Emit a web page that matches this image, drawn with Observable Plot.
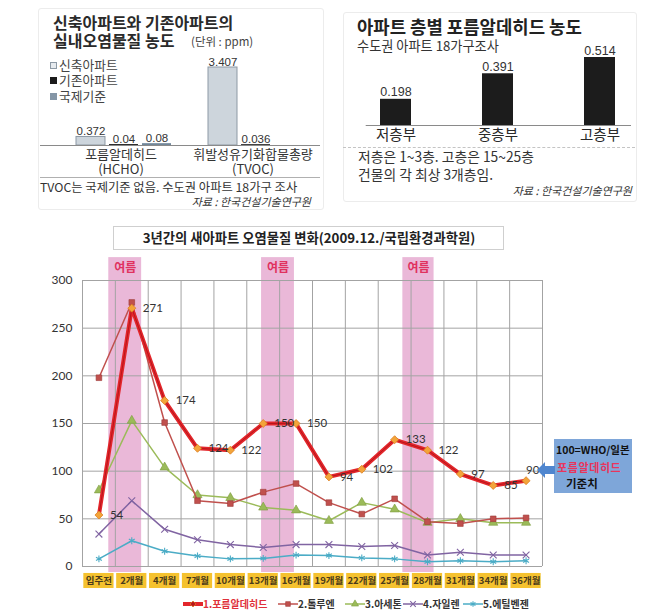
<!DOCTYPE html>
<html><head><meta charset="utf-8">
<script src="https://cdn.jsdelivr.net/npm/d3@7"></script>
<script src="https://cdn.jsdelivr.net/npm/@observablehq/plot@0.6"></script>
<style>
html,body{margin:0;padding:0;background:#fff;}
body{width:659px;height:615px;position:relative;overflow:hidden;font-family:"Noto Sans CJK KR",sans-serif;color:#333;}
.abs{position:absolute;white-space:nowrap;line-height:1;}
svg{position:absolute;}
</style></head><body>
<script>
// ---------- DATA ----------
const panelAGroups = ["HCHO", "TVOC"];
const panelAGroupLabels = ["포름알데히드\n(HCHO)", "휘발성유기화합물총량\n(TVOC)"];
const panelASeries = ["신축아파트", "기존아파트", "국제기준"];
const panelAHCHO = [0.372, 0.04, 0.08];
const panelATVOC = [3.407, 0.036, null];

const panelBFloors = ["저층부", "중층부", "고층부"];
const panelBValues = [0.198, 0.391, 0.514];

const months = ["입주전","2개월","4개월","7개월","10개월","13개월","16개월","19개월","22개월","25개월","28개월","31개월","34개월","36개월"];
const formaldehyde = [54, 271, 174, 124, 122, 150, 150, 94, 102, 133, 122, 97, 85, 90];
const toluene      = [198, 277, 151, 69, 66, 78, 87, 67, 55, 71, 47, 45, 50, 51];
const acetone      = [80, 153, 104, 75, 72, 62, 59, 48, 67, 60, 46, 50, 46, 46];
const xylene       = [34, 69, 39, 28, 23, 20, 23, 23, 21, 22, 12, 15, 12, 12];
const ethylbenzene = [8, 27, 16, 11, 8, 8.5, 12, 11.5, 9, 8, 5, 6, 5, 6];
const seriesNames = ["1.포름알데히드", "2.톨루엔", "3.아세톤", "4.자일렌", "5.에틸벤젠"];
const summerStart = [0.3, 4.95, 9.25];
const summerEnd   = [1.3, 5.95, 10.2];
const yTicks = [0, 50, 100, 150, 200, 250, 300];

// ---------- helpers ----------
const KR = "'Noto Sans CJK KR', sans-serif";
function txt(str, o) {
  const d = document.createElement("div");
  d.className = "abs";
  d.textContent = str;
  const s = o.size;
  d.style.fontSize = s + "px";
  d.style.top = (o.y - s * 0.55) + "px";
  if (o.anchor === "end") d.style.right = (659 - o.x) + "px";
  else if (o.anchor === "middle") { d.style.left = o.x + "px"; d.style.transform = "translateX(-50%)"; }
  else d.style.left = o.x + "px";
  if (o.weight) d.style.fontWeight = o.weight;
  if (o.color) d.style.color = o.color;
  if (o.italic) d.style.fontStyle = "italic";
  if (o.spacing) d.style.letterSpacing = o.spacing + "px";
  document.body.appendChild(d);
  return d;
}
function box(o) {
  const d = document.createElement("div");
  d.className = "abs";
  Object.assign(d.style, {left: o.x + "px", top: o.y + "px", width: o.w + "px", height: o.h + "px"}, o.css || {});
  document.body.appendChild(d);
  return d;
}
function place(svg, left, top) {
  svg.style.left = left + "px"; svg.style.top = top + "px";
  document.body.appendChild(svg);
}

// ---------- PANEL A (top-left) ----------
box({x: 38, y: 8, w: 284, h: 200, css: {border: "1px solid #ececec", borderRadius: "3px"}});
const aRows = [];
panelAGroups.forEach((g, gi) => {
  const vals = gi === 0 ? panelAHCHO : panelATVOC;
  panelASeries.forEach((s, si) => { if (vals[si] != null) aRows.push({g, s, v: vals[si]}); });
});
const chartA = Plot.plot({
  width: 330, height: 215,
  marginLeft: 75, marginRight: 26, marginTop: 67, marginBottom: 70,
  fx: {domain: panelAGroups, paddingInner: 0.278, paddingOuter: 0, axis: null},
  x: {domain: panelASeries, paddingInner: 0.125, paddingOuter: 0, axis: null},
  y: {domain: [0, 3.407], axis: null},
  color: {domain: panelASeries, range: ["#cdd5dc", "#1b1b1b", "#71879a"]},
  style: {fontFamily: KR, fontSize: "13px", color: "#333", background: "transparent", overflow: "visible"},
  marks: [
    Plot.barY(aRows, {fx: "g", x: "s", y: "v", fill: "s"}),
    Plot.barY(aRows.filter(d => d.s === panelASeries[0]), {fx: "g", x: "s", y: "v", fill: "none", stroke: "#8d99a5", strokeWidth: 1}),
    Plot.text(aRows, {fx: "g", x: "s", y: "v", text: d => String(d.v), lineAnchor: "bottom", dy: -2, fontSize: 11.5, fill: "#333", fontFamily: "Liberation Sans, sans-serif"}),
    Plot.text(panelAGroups, {fx: d => d, x: () => panelASeries[1], frameAnchor: "bottom", text: (d, i) => panelAGroupLabels[i],
      lineAnchor: "top", dy: 3, dx: -3, lineHeight: 1.15, fontSize: 13, fill: "#333"})
  ]
});
place(chartA, 0, 0);
box({x: 40, y: 145, w: 280, h: 1, css: {background: "#8a8a8a"}});
box({x: 40, y: 177, w: 280, h: 1, css: {background: "#b0b0b0"}});
txt("신축아파트와 기존아파트의", {x: 53, y: 23, size: 16, weight: "bold", color: "#2a2a2a"});
txt("실내오염물질 농도", {x: 53, y: 41, size: 16, weight: "bold", color: "#2a2a2a"});
txt("(단위 : ppm)", {x: 191, y: 42, size: 11.5, color: "#444"});
// legend squares
box({x: 50, y: 62, w: 7, h: 7, css: {background: "#e6eaee", border: "1px solid #8d99a5", boxSizing: "border-box"}});
box({x: 50, y: 77, w: 7, h: 7, css: {background: "#1b1b1b"}});
box({x: 50, y: 93, w: 7, h: 7, css: {background: "#8596a6"}});
txt(panelASeries[0], {x: 59, y: 66, size: 12.8, color: "#444"});
txt(panelASeries[1], {x: 59, y: 81, size: 12.8, color: "#444"});
txt(panelASeries[2], {x: 59, y: 97, size: 12.8, color: "#444"});
txt("TVOC는 국제기준 없음. 수도권 아파트 18가구 조사", {x: 40, y: 188, size: 12.3, color: "#333"});
txt("자료 : 한국건설기술연구원", {x: 311, y: 202, size: 11, color: "#333", italic: true, anchor: "end"});

// ---------- PANEL B (top-right) ----------
box({x: 343, y: 12, w: 292, h: 188, css: {border: "1px solid #ececec", borderRadius: "3px"}});
const bRows = panelBFloors.map((f, i) => ({f, v: panelBValues[i]}));
const chartB = Plot.plot({
  width: 329, height: 215,
  marginLeft: 13.7, marginRight: 8, marginTop: 57, marginBottom: 90,
  x: {domain: panelBFloors, paddingInner: 0.7, paddingOuter: 0.35, tickSize: 0, tickPadding: 4, label: null},
  y: {domain: [0, 0.514], axis: null},
  style: {fontFamily: KR, fontSize: "14.5px", color: "#2a2a2a", background: "transparent", overflow: "visible"},
  marks: [
    Plot.ruleY([0], {stroke: "#8a8a8a", insetLeft: 22, insetRight: 20}),
    Plot.barY(bRows, {x: "f", y: "v", fill: "#1c1c1c"}),
    Plot.text(bRows, {x: "f", y: "v", text: d => d.v.toFixed(3), lineAnchor: "bottom", dy: -3, fontSize: 12.5, fill: "#333", fontFamily: "Liberation Sans, sans-serif"})
  ]
});
place(chartB, 330, 0);
box({x: 343, y: 147, w: 292, h: 0, css: {borderTop: "1px dashed #c4c4c4"}});
txt("아파트 층별 포름알데히드 농도", {x: 357, y: 28, size: 17.8, weight: "bold", color: "#222"});
txt("수도권 아파트 18가구조사", {x: 357, y: 46, size: 13.2, color: "#333"});
txt("저층은 1~3층. 고층은 15~25층", {x: 358, y: 158, size: 13.8, color: "#333"});
txt("건물의 각 최상 3개층임.", {x: 358, y: 176, size: 13.8, color: "#333"});
txt("자료 : 한국건설기술연구원", {x: 632, y: 191, size: 11, color: "#333", italic: true, anchor: "end"});

// ---------- MAIN CHART ----------
const colors = ["#e3262b", "#c0504d", "#9bbb59", "#8064a2", "#4bacc6"];
const allSeries = [formaldehyde, toluene, acetone, xylene, ethylbenzene];
const seriesRows = allSeries.map((vals, k) => vals.map((v, i) => ({i, v, k})));
const idx = months.map((_, i) => i);
const dotStyles = [
  {symbol: "diamond2", r: 3.6, fill: "#f3a43a", stroke: "#dc7f22", strokeWidth: 0.8},
  {symbol: "square", r: 3.2, fill: "#c0504d", stroke: "#9e3b39", strokeWidth: 0.6},
  {symbol: "triangle", r: 3.4, fill: "#9bbb59", stroke: "#7e9c40", strokeWidth: 0.6},
  {symbol: "times", r: 3.2, fill: "none", stroke: "#8064a2", strokeWidth: 1.1},
  {symbol: "asterisk", r: 3.2, fill: "none", stroke: "#4bacc6", strokeWidth: 1.1}
];
const lineMarks = [4, 3, 2, 1].flatMap(k => [
  Plot.line(seriesRows[k], {x: "i", y: "v", stroke: colors[k], strokeWidth: 1.5}),
  Plot.dot(seriesRows[k], {x: "i", y: "v", ...dotStyles[k]})
]);
const fRows = seriesRows[0];
const main = Plot.plot({
  width: 659, height: 350,
  marginLeft: 82, marginRight: 117, marginTop: 30, marginBottom: 34,
  x: {domain: [-0.5, months.length - 0.5], axis: null},
  y: {domain: [0, 300], ticks: yTicks, tickSize: 0, tickPadding: 10, label: null, tickFormat: d => String(d)},
  style: {fontFamily: "Lato, 'Noto Sans', sans-serif", fontSize: "12px", color: "#333", background: "transparent", overflow: "visible"},
  marks: [
    Plot.rect(summerStart, {x1: d => d, x2: (d, i) => summerEnd[i], y1: -6.3, y2: 324, fill: "#eab8d8"}),
    Plot.ruleY(yTicks, {stroke: "#a3a3a3", strokeWidth: 1}),
    Plot.ruleX(d3.range(months.length + 1), {x: d => d - 0.5, y1: 0, y2: 300, stroke: "#a3a3a3", strokeWidth: 1}),
    Plot.text(summerStart, {x: (d, i) => (d + summerEnd[i]) / 2, y: 312.6, text: () => "여름", fill: "#e0325f", fontWeight: "bold", fontSize: 12, fontFamily: KR}),
    Plot.rect(idx, {x1: i => i - 0.46, x2: i => i + 0.46, y1: -7.3, y2: -23.1, fill: "#f5c22f"}),
    Plot.text(idx, {x: i => i, y: -15.2, text: i => months[i], fontSize: 9.5, fill: "#4a3a1a", fontWeight: "bold", fontFamily: KR}),
    ...lineMarks,
    Plot.line(fRows, {x: "i", y: "v", stroke: colors[0], strokeWidth: 4}),
    Plot.line(fRows, {x: "i", y: "v", stroke: "#b8161c", strokeWidth: 1}),
    Plot.dot(fRows, {x: "i", y: "v", ...dotStyles[0]}),
    Plot.text(fRows.slice(0, -1), {x: "i", y: "v", text: d => String(d.v), dx: 11, textAnchor: "start", fontSize: 11.5, fill: "#333"}),
    Plot.text(fRows.slice(-1), {x: "i", y: "v", text: d => String(d.v), dx: 0, dy: -10, textAnchor: "start", fontSize: 11.5, fill: "#333"})
  ]
});
place(main, 0, 250);

// title box
box({x: 113, y: 226, w: 391, h: 24, css: {border: "1px solid #cfcfcf", background: "#fff", boxSizing: "border-box"}});
txt("3년간의 새아파트 오염물질 변화(2009.12./국립환경과학원)", {x: 309, y: 238.5, size: 13.3, weight: "bold", color: "#222", anchor: "middle"});

// callout box + arrow
box({x: 554, y: 439, w: 78, h: 54, css: {background: "#7ea6d9"}});
txt("100=WHO/일본", {x: 556, y: 451, size: 10.5, weight: "bold", color: "#111"});
txt("포름알데히드", {x: 557, y: 468, size: 11, weight: "bold", color: "#e8355c", spacing: 0.6});
txt("기준치", {x: 566, y: 484, size: 11.5, weight: "bold", color: "#111"});
const NS = "http://www.w3.org/2000/svg";
const arr = document.createElementNS(NS, "svg");
arr.setAttribute("width", 20); arr.setAttribute("height", 20);
arr.innerHTML = '<path d="M1,10 L9,2 L9,6 L19,6 L19,14 L9,14 L9,18 Z" fill="#4f86cf"/>';
place(arr, 536, 460);

// legend
const symMap = [d3.symbolDiamond2, d3.symbolSquare, d3.symbolTriangle, d3.symbolTimes, d3.symbolAsterisk];
const legLeft = [183, 278, 345, 403, 463];
seriesNames.forEach((name, k) => {
  const s = document.createElementNS(NS, "svg");
  s.setAttribute("width", 20); s.setAttribute("height", 10);
  const lw = k === 0 ? 4 : 1.5;
  const ds = dotStyles[k];
  const p = d3.symbol(symMap[k], 22)();
  s.innerHTML = `<line x1="0" y1="5" x2="20" y2="5" stroke="${colors[k]}" stroke-width="${lw}"/>` +
    `<path transform="translate(10,5)" d="${p}" fill="${k === 0 ? "#b8161c" : ds.fill}" stroke="${ds.stroke}" stroke-width="${ds.strokeWidth}"/>`;
  place(s, legLeft[k], 599);
  txt(name, {x: legLeft[k] + 20, y: 604, size: 10, weight: "bold", color: k === 0 ? "#e0303a" : "#333"});
});
</script>
</body></html>
